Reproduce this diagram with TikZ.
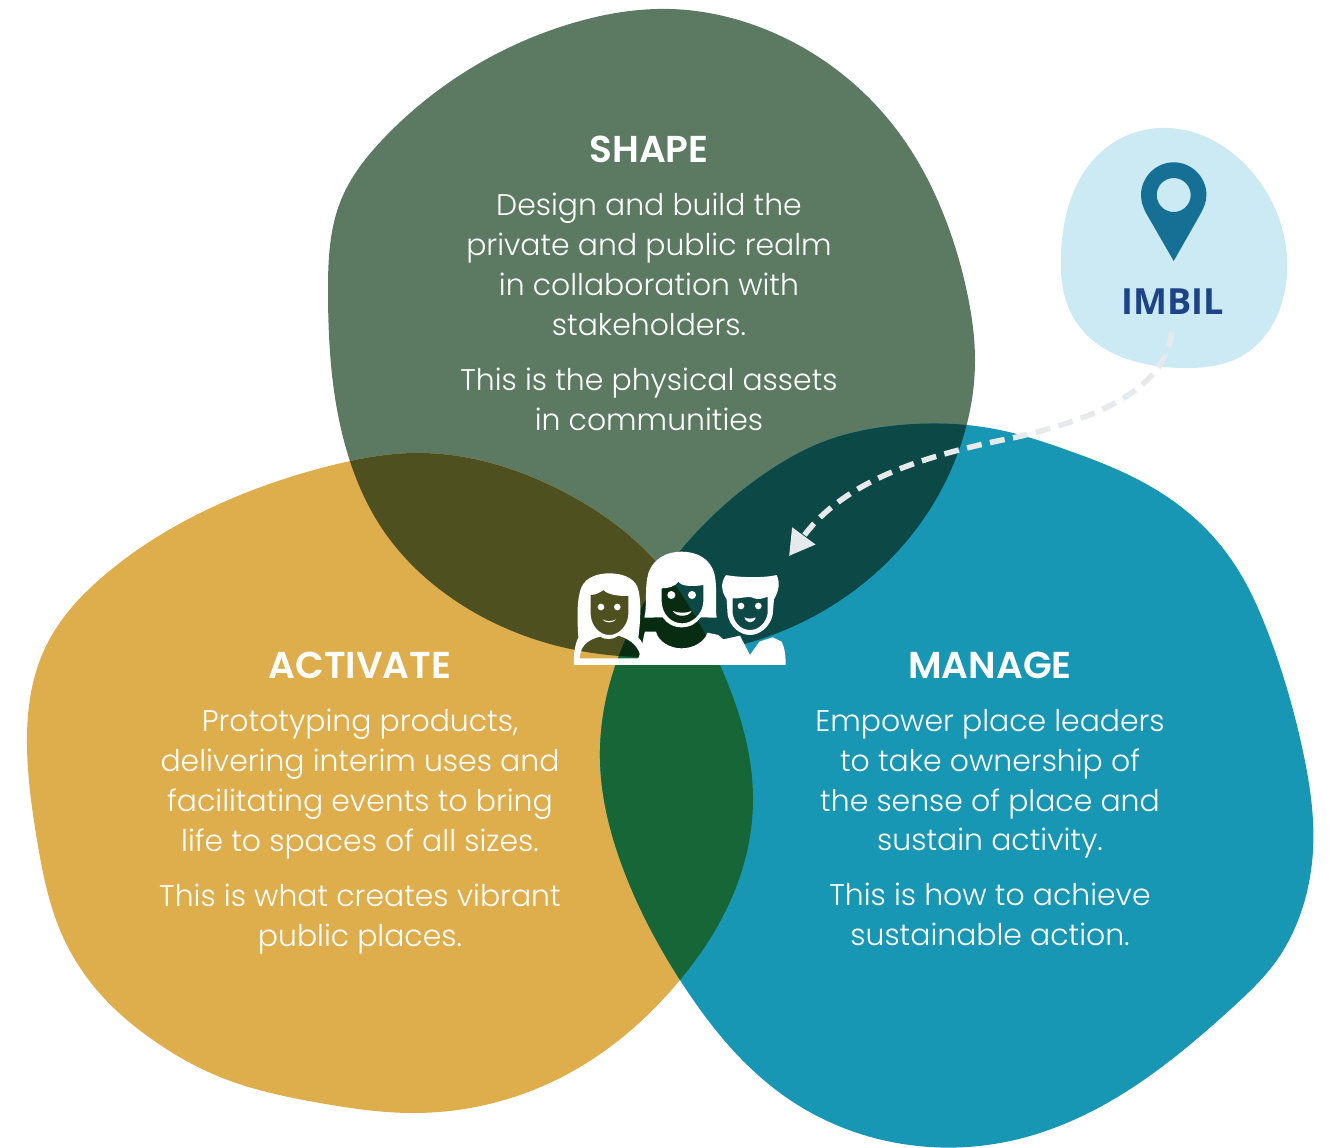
\documentclass[tikz,border=0pt]{standalone}
\usepackage{fontspec}
\setmainfont{Poppins}[UprightFont={* Light},BoldFont={* SemiBold}]
\newfontfamily\pinfont{Open Sans}
\usetikzlibrary{arrows.meta,hobby}
\definecolor{shapegreen}{HTML}{5C7A62}
\definecolor{activategold}{HTML}{DFAE4C}
\definecolor{manageblue}{HTML}{1897B4}
\definecolor{shapemanage}{HTML}{0B4846}
\definecolor{shapeactivate}{HTML}{4F501F}
\definecolor{activatemanage}{HTML}{166637}
\definecolor{allthree}{HTML}{082C12}
\definecolor{imbilblue}{HTML}{CCEAF4}
\definecolor{pinblue}{HTML}{167095}
\definecolor{imbiltext}{HTML}{1D4487}
\definecolor{arrowgrey}{HTML}{E6EAED}
\newcommand{\shapeblob}{(670,9) .. (767,30) .. (833,67) .. (883,113) .. (917,160) .. (943,213) .. (968,297) .. (975,360) .. (960,447) .. (910,537) .. (780,632) .. (650,657) .. (450,597) .. (383,530) .. (348,455) .. (328,293) .. (341,200) .. (385,137) .. (485,60) .. (573,23)}
\newcommand{\activateblob}{(413,453) .. (333,465) .. (233,498) .. (100,579) .. (67,613) .. (40,660) .. (27,745) .. (37,840) .. (63,937) .. (103,997) .. (153,1040) .. (220,1077) .. (320,1103) .. (413,1113) .. (560,1078) .. (680,980) .. (735,890) .. (753,800) .. (720,665) .. (650,555) .. (560,490)}
\newcommand{\manageblob}{(900,425) .. (1000,430) .. (1067,450) .. (1133,477) .. (1200,523) .. (1240,573) .. (1267,630) .. (1302,747) .. (1313,850) .. (1297,923) .. (1277,960) .. (1233,1007) .. (1167,1063) .. (1100,1107) .. (1000,1143) .. (930,1147) .. (790,1100) .. (680,980) .. (620,860) .. (600,760) .. (640,610) .. (770,470) .. (820,443)}
\newcommand{\imbilblob}{(1168,128) .. (1253,173) .. (1287,273) .. (1240,357) .. (1183,368) .. (1073,317) .. (1061,253) .. (1107,147)}
\tikzset{
  blobpath/.style={use Hobby shortcut,closed=true},
  titletext/.style={text=white,align=center,font=\fontsize{21.3}{24}\selectfont\bfseries},
  bodytext/.style={text=white,align=center,font=\fontsize{17}{22.7}\selectfont},
  imbillabel/.style={text=imbiltext,font=\pinfont\fontsize{20.5}{24}\selectfont\bfseries},
  walkarrow/.style={draw=arrowgrey,line width=0.11cm,dash pattern=on 0.3cm off 0.17cm,-{Triangle[length=0.5cm,width=0.55cm]}},
  iconfill/.style={fill=white,even odd rule},
}
\begin{document}
\begin{tikzpicture}[x=0.02cm,y=-0.02cm]
  \useasboundingbox (0,0) rectangle (1335,1147);

  %blobs
  \fill[shapegreen,blobpath] \shapeblob;
  \fill[activategold,blobpath] \activateblob;
  \fill[manageblue,blobpath] \manageblob;
  \fill[imbilblue,blobpath] \imbilblob;

  %overlaps
  \begin{scope}
    \clip[blobpath] \shapeblob;
    \fill[shapeactivate,blobpath] \activateblob;
    \fill[shapemanage,blobpath] \manageblob;
  \end{scope}
  \begin{scope}
    \clip[blobpath] \activateblob;
    \fill[activatemanage,blobpath] \manageblob;
    \clip[blobpath] \shapeblob;
    \fill[allthree,blobpath] \manageblob;
  \end{scope}

  %text
  \node[titletext] (shapetitle) at (649,149) {SHAPE};
  \node[bodytext,anchor=north] (shapebody) at (649,187) {Design and build the\\private and public realm\\in collaboration with\\stakeholders.\\[0.3cm]This is the physical assets\\in communities};
  \node[titletext] (activatetitle) at (360,665) {ACTIVATE};
  \node[bodytext,anchor=north] (activatebody) at (360,703) {Prototyping products,\\delivering interim uses and\\facilitating events to bring\\life to spaces of all sizes.\\[0.3cm]This is what creates vibrant\\public places.};
  \node[titletext] (managetitle) at (990,665) {MANAGE};
  \node[bodytext,anchor=north] (managebody) at (990,703) {Empower place leaders\\to take ownership of\\the sense of place and\\sustain activity.\\[0.3cm]This is how to achieve\\sustainable action.};

  %pin
  \fill[pinblue,even odd rule] (1173.7,261) -- (1146,213) .. controls (1143,207) and (1141,202) .. (1141,195) .. controls (1141,177) and (1156,162.3) .. (1173.7,162.3) .. controls (1191.7,162.3) and (1206.4,177) .. (1206.4,195) .. controls (1206.4,202) and (1204,207) .. (1201,213) -- cycle (1173.7,195) circle (17);
  \node[imbillabel] (imbil) at (1173,302) {IMBIL};

  %arrow
  \coordinate (arrowstart) at (1172,332);
  \coordinate (arrowmid) at (1017,437);
  \coordinate (arrowend) at (789,556);
  \draw[walkarrow] (arrowstart) .. controls (1165,385) and (1110,415) .. (arrowmid) .. controls (925,455) and (845,480) .. (arrowend);

  %people
  \begin{scope}[shift={(550,520)},scale=0.3333]
    %left woman
    \fill[iconfill] (85,352) .. controls (80,280) and (82,230) .. (95,200) .. controls (110,170) and (145,160) .. (178,160) .. controls (215,160) and (250,172) .. (262,200) .. controls (275,235) and (272,300) .. (265,352) .. controls (285,375) and (290,400) .. (290,435) -- (72,435) .. controls (70,400) and (75,375) .. (85,352) -- cycle
      (122,225) .. controls (135,225) and (150,218) .. (160,210) .. controls (175,225) and (205,228) .. (235,228) -- (235,285) .. controls (232,320) and (205,345) .. (178,345) .. controls (150,345) and (125,320) .. (122,285) -- cycle
      (90,415) .. controls (90,380) and (110,360) .. (150,350) .. controls (165,360) and (190,360) .. (205,347) .. controls (245,358) and (270,385) .. (272,415) -- cycle;
    \fill[white] (153,261) circle (10) (202,261) circle (10);
    \fill[white] (157,298) .. controls (170,305) and (185,305) .. (198,298) .. controls (190,310) and (165,310) .. (157,298) -- cycle;
    %middle woman
    \fill[iconfill] (283,293) .. controls (292,260) and (283,200) .. (295,160) .. controls (310,115) and (350,95) .. (395,95) .. controls (440,95) and (480,115) .. (493,160) .. controls (503,200) and (495,260) .. (500,293) -- (452,292) .. controls (440,310) and (420,322) .. (395,322) .. controls (370,322) and (350,310) .. (338,292) -- cycle
      (335,205) .. controls (355,205) and (375,200) .. (385,185) .. controls (395,200) and (430,200) .. (460,195) -- (460,245) .. controls (458,285) and (425,310) .. (397,310) .. controls (365,310) and (337,285) .. (335,245) -- cycle;
    \fill[white] (364,225) circle (12) (426,225) circle (12);
    \fill[white] (368,273) .. controls (385,280) and (410,280) .. (425,273) .. controls (415,292) and (380,292) .. (368,273) -- cycle;
    \fill[white] (265,415) .. controls (275,390) and (280,350) .. (285,335) -- (318,335) .. controls (325,365) and (360,385) .. (395,385) .. controls (430,385) and (465,365) .. (472,338) -- (505,345) -- (520,358) -- (570,347) -- (600,405) -- (628,365) -- (668,352) -- (695,365) .. controls (705,385) and (707,410) .. (707,435) -- (272,435) -- cycle;
    %man
    \fill[iconfill] (530,238) .. controls (515,215) and (510,190) .. (528,165) .. controls (560,172) and (640,175) .. (680,165) .. controls (692,190) and (685,215) .. (672,238) -- (668,285) .. controls (660,320) and (630,345) .. (600,345) .. controls (570,345) and (540,320) .. (533,285) -- cycle
      (548,235) .. controls (565,238) and (600,225) .. (612,235) .. controls (625,240) and (640,235) .. (653,230) -- (653,280) .. controls (648,310) and (625,330) .. (600,330) .. controls (575,330) and (552,310) .. (548,280) -- cycle;
    \fill[white] (573,258) circle (10) (625,258) circle (10);
    \fill[white] (583,292) .. controls (595,297) and (605,297) .. (617,292) .. controls (612,312) and (590,312) .. (583,292) -- cycle;
  \end{scope}
\end{tikzpicture}
\end{document}
